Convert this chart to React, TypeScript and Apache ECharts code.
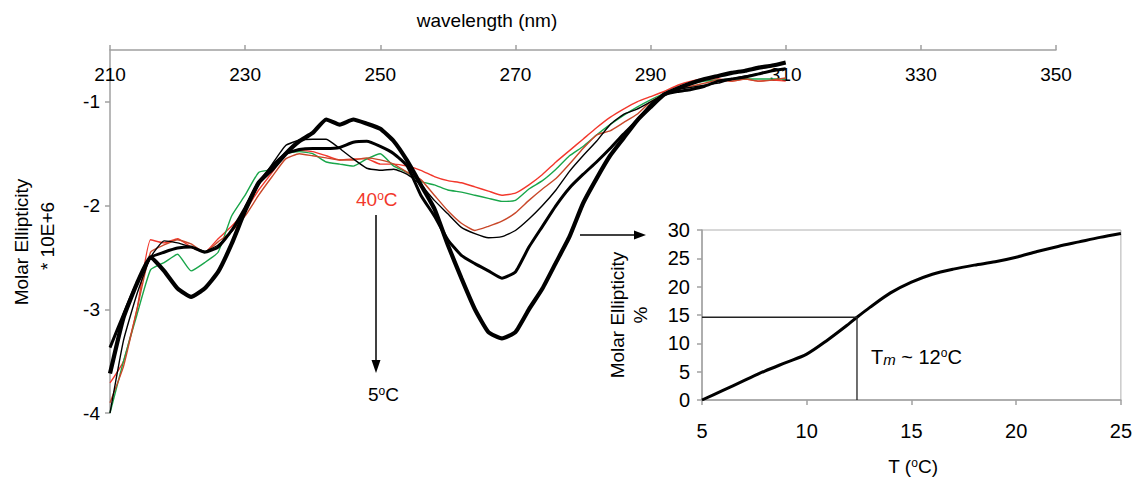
import React, { useEffect, useRef } from "react";
import * as echarts from "echarts";

const wavelengths = [210, 212, 214, 216, 218, 220, 222, 224, 226, 228, 230, 232, 234, 236, 238, 240, 242, 244, 246, 248, 250, 252, 254, 256, 258, 260, 262, 264, 266, 268, 270, 272, 274, 276, 278, 280, 282, 284, 286, 288, 290, 292, 294, 296, 298, 300, 302, 304, 306, 308, 310];

const ell5C = [-3.62, -3.08, -2.75, -2.5, -2.63, -2.8, -2.88, -2.8, -2.64, -2.37, -2.05, -1.78, -1.65, -1.5, -1.38, -1.3, -1.17, -1.22, -1.17, -1.21, -1.26, -1.38, -1.57, -1.8, -2.03, -2.38, -2.7, -3.0, -3.22, -3.28, -3.22, -3.0, -2.8, -2.55, -2.3, -1.98, -1.74, -1.52, -1.35, -1.18, -1.05, -0.93, -0.87, -0.82, -0.78, -0.75, -0.72, -0.7, -0.67, -0.65, -0.62];
const ell10C = [-3.37, -3.05, -2.75, -2.5, -2.45, -2.41, -2.4, -2.45, -2.4, -2.24, -2.02, -1.78, -1.62, -1.5, -1.46, -1.45, -1.45, -1.44, -1.39, -1.38, -1.43, -1.5, -1.62, -1.9, -2.1, -2.33, -2.48, -2.56, -2.63, -2.7, -2.64, -2.4, -2.2, -2.0, -1.83, -1.7, -1.58, -1.45, -1.31, -1.18, -1.03, -0.93, -0.9, -0.88, -0.85, -0.8, -0.78, -0.76, -0.73, -0.7, -0.68];
const ell15C = [-4.0, -3.3, -2.85, -2.5, -2.34, -2.36, -2.4, -2.44, -2.38, -2.25, -2.05, -1.8, -1.6, -1.42, -1.37, -1.36, -1.36, -1.45, -1.55, -1.64, -1.66, -1.65, -1.7, -1.8, -1.95, -2.08, -2.21, -2.27, -2.31, -2.3, -2.24, -2.13, -2.0, -1.85, -1.67, -1.52, -1.38, -1.22, -1.12, -1.07, -1.0, -0.93, -0.88, -0.86, -0.84, -0.82, -0.78, -0.75, -0.73, -0.7, -0.68];
const ell20C = [-3.9, -3.55, -3.0, -2.45, -2.38, -2.33, -2.37, -2.45, -2.35, -2.25, -2.1, -1.9, -1.72, -1.55, -1.5, -1.52, -1.54, -1.56, -1.56, -1.54, -1.56, -1.6, -1.68, -1.75, -1.9, -2.05, -2.17, -2.24, -2.2, -2.15, -2.07, -1.95, -1.84, -1.74, -1.6, -1.45, -1.32, -1.28, -1.2, -1.12, -1.0, -0.93, -0.88, -0.85, -0.82, -0.79, -0.8, -0.78, -0.8, -0.79, -0.77];
const ell30C = [-4.0, -3.5, -3.05, -2.62, -2.55, -2.47, -2.63, -2.55, -2.45, -2.1, -1.9, -1.68, -1.65, -1.5, -1.48, -1.5, -1.58, -1.6, -1.62, -1.55, -1.5, -1.62, -1.68, -1.77, -1.8, -1.85, -1.87, -1.9, -1.93, -1.96, -1.95, -1.84, -1.76, -1.65, -1.52, -1.43, -1.32, -1.22, -1.13, -1.05, -0.98, -0.92, -0.87, -0.83, -0.8, -0.79, -0.78, -0.78, -0.78, -0.78, -0.78];
const ell40C = [-3.71, -3.5, -3.0, -2.33, -2.36, -2.32, -2.4, -2.45, -2.32, -2.2, -2.05, -1.85, -1.68, -1.5, -1.47, -1.48, -1.52, -1.56, -1.55, -1.55, -1.6, -1.6, -1.62, -1.66, -1.72, -1.76, -1.78, -1.82, -1.86, -1.9, -1.88, -1.8, -1.7, -1.58, -1.47, -1.36, -1.25, -1.15, -1.07, -1.0, -0.95, -0.9, -0.84, -0.8, -0.78, -0.78, -0.8, -0.78, -0.8, -0.79, -0.8];

const insetT = [5, 6, 7, 8, 9, 10, 11, 12, 12.4, 13, 14, 15, 16, 17, 18, 19, 20, 21, 22, 23, 24, 25];
const insetPct = [0, 1.7, 3.4, 5.1, 6.6, 8.1, 10.6, 13.4, 14.6, 16.3, 18.9, 20.8, 22.2, 23.1, 23.8, 24.4, 25.2, 26.2, 27.1, 27.9, 28.7, 29.4];
const tmT = [5, 12.4, 12.4];
const tmPct = [14.6, 14.6, 0];

const FONT = "Arial, 'Liberation Sans', sans-serif";

export default function App() {
  const ref = useRef<HTMLDivElement>(null);
  useEffect(() => {
    if (!ref.current) return;
    document.body.style.margin = "0";
    const chart = echarts.init(ref.current, null, { renderer: "svg" });
    const pair = (ys: number[]) => wavelengths.map((w, i) => [w, ys[i]]);
    const line = (name: string, ys: number[], color: string, width: number, z: number) => ({
      name,
      type: "line",
      xAxisIndex: 0,
      yAxisIndex: 0,
      data: pair(ys),
      showSymbol: false,
      smooth: 0.15,
      z,
      lineStyle: { color, width },
    });
    const grey = "#a0a0a0";
    chart.setOption({
      animation: false,
      backgroundColor: "#ffffff",
      textStyle: { fontFamily: FONT },
      grid: [
        { left: 110, right: 79, top: 50, bottom: 65 },
        { left: 702, right: 12, top: 230, bottom: 78, show: true, borderColor: "#b0b0b0", borderWidth: 1 },
      ],
      xAxis: [
        {
          type: "value",
          gridIndex: 0,
          position: "top",
          min: 210,
          max: 350,
          interval: 20,
          axisLine: { show: true, onZero: false, lineStyle: { color: grey, width: 1.5 } },
          axisTick: { show: true, length: 5, lineStyle: { color: grey, width: 1.5 } },
          axisLabel: { inside: true, margin: 15, color: "#000", fontSize: 19, fontFamily: FONT },
          splitLine: { show: false },
        },
        {
          type: "value",
          gridIndex: 1,
          position: "bottom",
          min: 5,
          max: 25,
          interval: 5,
          axisLine: { show: true, onZero: false, lineStyle: { color: grey, width: 1.5 } },
          axisTick: { show: true, length: 5, lineStyle: { color: grey, width: 1.5 } },
          axisLabel: { margin: 21, color: "#000", fontSize: 20, fontFamily: FONT },
          splitLine: { show: false },
        },
      ],
      yAxis: [
        {
          type: "value",
          gridIndex: 0,
          min: -4,
          max: -0.5,
          interval: 1,
          axisLine: { show: true, onZero: false, lineStyle: { color: grey, width: 1.5 } },
          axisTick: { show: true, length: 5, lineStyle: { color: grey, width: 1.5 } },
          axisLabel: { margin: 10, color: "#000", fontSize: 19, fontFamily: FONT, showMaxLabel: false },
          splitLine: { show: false },
        },
        {
          type: "value",
          gridIndex: 1,
          min: 0,
          max: 30,
          interval: 5,
          axisLine: { show: true, onZero: false, lineStyle: { color: grey, width: 1.5 } },
          axisTick: { show: true, length: 5, lineStyle: { color: grey, width: 1.5 } },
          axisLabel: { margin: 12, color: "#000", fontSize: 20, fontFamily: FONT },
          splitLine: { show: false },
        },
      ],
      series: [
        line("40 C", ell40C, "#f2382c", 1.4, 2),
        line("30 C", ell30C, "#19a64a", 1.4, 3),
        line("20 C", ell20C, "#c9482a", 1.4, 4),
        line("15 C", ell15C, "#000000", 1.4, 5),
        line("10 C", ell10C, "#000000", 3, 6),
        line("5 C", ell5C, "#000000", 4.2, 7),
        {
          name: "melting",
          type: "line",
          xAxisIndex: 1,
          yAxisIndex: 1,
          data: insetT.map((t, i) => [t, insetPct[i]]),
          showSymbol: false,
          smooth: 0.3,
          lineStyle: { color: "#000", width: 3 },
        },
        {
          name: "Tm",
          type: "line",
          xAxisIndex: 1,
          yAxisIndex: 1,
          data: tmT.map((t, i) => [t, tmPct[i]]),
          showSymbol: false,
          lineStyle: { color: "#222", width: 1.3 },
        },
      ],
      graphic: [
        { type: "text", x: 487, y: 20, style: { text: "wavelength (nm)", font: `19px ${FONT}`, fill: "#000", align: "center", verticalAlign: "middle" } },
        { type: "text", x: 21, y: 242, rotation: Math.PI / 2, style: { text: "Molar Ellipticity", font: `19px ${FONT}`, fill: "#000", align: "center", verticalAlign: "middle" } },
        { type: "text", x: 47, y: 236, rotation: Math.PI / 2, style: { text: "* 10E+6", font: `19px ${FONT}`, fill: "#000", align: "center", verticalAlign: "middle" } },
        {
          type: "text", x: 356, y: 199,
          style: {
            text: "{a|40}{s|o}{a|C}",
            fill: "#f2382c",
            verticalAlign: "middle",
            rich: {
              a: { fontSize: 19, fontFamily: FONT, fill: "#f2382c", color: "#f2382c" },
              s: { fontSize: 12, fontFamily: FONT, fill: "#f2382c", color: "#f2382c", verticalAlign: "top", lineHeight: 12 },
            },
          },
        },
        {
          type: "text", x: 368, y: 394,
          style: {
            text: "{a|5}{s|o}{a|C}",
            fill: "#000",
            verticalAlign: "middle",
            rich: {
              a: { fontSize: 19, fontFamily: FONT },
              s: { fontSize: 12, fontFamily: FONT, verticalAlign: "top", lineHeight: 12 },
            },
          },
        },
        { type: "line", shape: { x1: 376, y1: 215, x2: 376, y2: 362 }, style: { stroke: "#000", lineWidth: 1.5 } },
        { type: "polygon", shape: { points: [[371.5, 360], [380.5, 360], [376, 373]] }, style: { fill: "#000" } },
        { type: "line", shape: { x1: 580, y1: 235, x2: 636, y2: 235 }, style: { stroke: "#000", lineWidth: 1.5 } },
        { type: "polygon", shape: { points: [[634, 230.5], [634, 239.5], [646, 235]] }, style: { fill: "#000" } },
        { type: "text", x: 617, y: 315, rotation: Math.PI / 2, style: { text: "Molar Ellipticity", font: `19px ${FONT}`, fill: "#000", align: "center", verticalAlign: "middle" } },
        { type: "text", x: 640, y: 315, rotation: Math.PI / 2, style: { text: "%", font: `19px ${FONT}`, fill: "#000", align: "center", verticalAlign: "middle" } },
        {
          type: "text", x: 871, y: 357,
          style: {
            text: "{a|T}{m|m}{a| ~ 12}{s|o}{a|C}",
            fill: "#000",
            verticalAlign: "middle",
            rich: {
              a: { fontSize: 20, fontFamily: FONT },
              m: { fontSize: 15, fontFamily: FONT, fontStyle: "italic", verticalAlign: "bottom", lineHeight: 15 },
              s: { fontSize: 12, fontFamily: FONT, verticalAlign: "top", lineHeight: 12 },
            },
          },
        },
        {
          type: "text", x: 913, y: 466,
          style: {
            text: "{a|T (}{s|o}{a|C)}",
            fill: "#000",
            align: "center",
            verticalAlign: "middle",
            rich: {
              a: { fontSize: 19, fontFamily: FONT },
              s: { fontSize: 12, fontFamily: FONT, verticalAlign: "top", lineHeight: 12 },
            },
          },
        },
      ],
    });
    return () => chart.dispose();
  }, []);
  return <div ref={ref} style={{ position: "absolute", left: 0, top: 0, width: 1135, height: 478 }} />;
}
